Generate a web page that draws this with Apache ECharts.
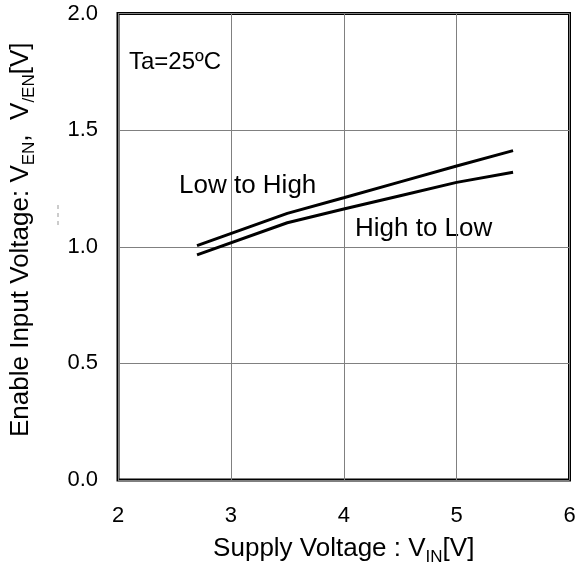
<!DOCTYPE html>
<html>
<head>
<meta charset="utf-8">
<script src="https://cdn.jsdelivr.net/npm/echarts@6/dist/echarts.min.js"></script>
<style>
html,body{margin:0;padding:0;background:#fff;}
#chart{width:579px;height:571px;}
</style>
</head>
<body>
<div id="chart"></div>
<script>
// Data
const supplyVoltage = [2.7, 3.5, 4.0, 4.5, 5.0, 5.5];
const lowToHigh = [1.005, 1.143, 1.21, 1.278, 1.346, 1.412];
const highToLow = [0.965, 1.103, 1.162, 1.219, 1.276, 1.319];
const xTicks = [2, 3, 4, 5, 6];
const yTicks = [0.0, 0.5, 1.0, 1.5, 2.0];

const FONT = '"Liberation Sans", Arial, sans-serif';

function pairs(xs, ys){ return xs.map((x,i)=>[x, ys[i]]); }

const titleRich = {
  m:{fontSize:26, fontFamily:FONT, color:'#000', lineHeight:30, verticalAlign:'bottom'},
  s:{fontSize:17, fontFamily:FONT, color:'#000', lineHeight:30, verticalAlign:'bottom', padding:[0,0,-4,0]}
};

const chart = echarts.init(document.getElementById('chart'), null, {renderer:'canvas'});
chart.setOption({
  animation:false,
  backgroundColor:'#ffffff',
  grid:{left:110.5, right:9.5, top:13.5, bottom:91, show:true, borderColor:'#000', borderWidth:3, backgroundColor:'transparent'},
  xAxis:{
    type:'value', min:xTicks[0], max:xTicks[xTicks.length-1], interval:1,
    axisLine:{show:false}, axisTick:{show:false},
    splitLine:{show:true, lineStyle:{color:'#808080', width:1}},
    axisLabel:{fontSize:22, fontFamily:FONT, color:'#000', margin:25},
    name:'{m|Supply Voltage : V}{s|IN}{m|[V]}',
    nameLocation:'middle', nameGap:52,
    nameTextStyle:{fontFamily:FONT, color:'#000', rich:titleRich}
  },
  yAxis:{
    type:'value', min:yTicks[0], max:yTicks[yTicks.length-1], interval:0.5,
    axisLine:{show:false}, axisTick:{show:false},
    splitLine:{show:true, lineStyle:{color:'#808080', width:1}},
    axisLabel:{fontSize:22, fontFamily:FONT, color:'#000', margin:20, formatter:v=>v.toFixed(1)},
    name:'{m|Enable Input Voltage: V}{s|EN}{m|,  V}{s|/EN}{m|[V]}',
    nameLocation:'middle', nameGap:84,
    nameTextStyle:{fontFamily:FONT, color:'#000', rich:titleRich, padding:[0,0,0,14]}
  },
  series:[
    {type:'line', data:pairs(supplyVoltage, lowToHigh), symbol:'none', lineStyle:{color:'#000', width:3}},
    {type:'line', data:pairs(supplyVoltage, highToLow), symbol:'none', lineStyle:{color:'#000', width:3}}
  ],
  graphic:[
    {type:'text', x:129, y:62, style:{text:'Ta=25ºC', font:'24px '+FONT, fill:'#000', verticalAlign:'middle'}},
    {type:'text', x:179, y:186, style:{text:'Low to High', font:'26px '+FONT, fill:'#000', verticalAlign:'middle'}},
    {type:'text', x:355, y:229, style:{text:'High to Low', font:'26px '+FONT, fill:'#000', verticalAlign:'middle'}},
    {type:'line', shape:{x1:58, y1:205, x2:58, y2:229}, style:{stroke:'#999', lineWidth:1, lineDash:[4,4]}}
  ]
});
</script>
</body>
</html>
